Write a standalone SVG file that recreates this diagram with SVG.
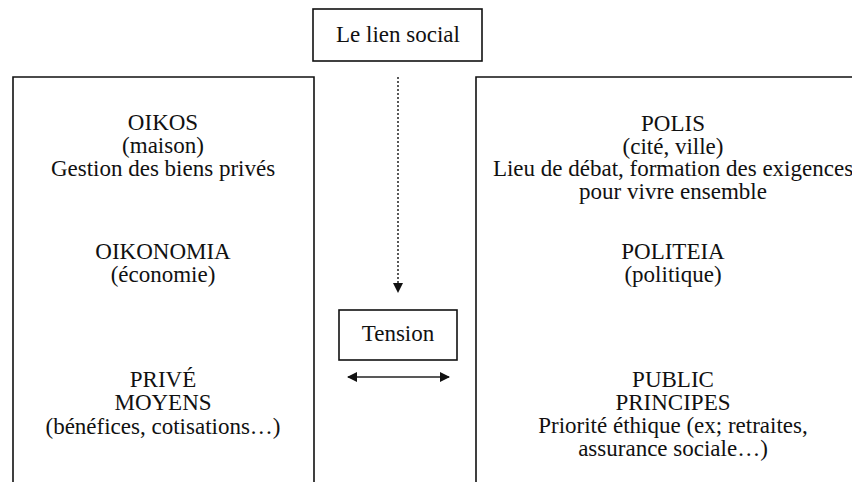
<svg xmlns="http://www.w3.org/2000/svg" width="852" height="482" viewBox="0 0 852 482">
<defs>
<style>
.t{font-family:'Liberation Serif','DejaVu Serif',serif;font-size:23px;fill:#111;text-anchor:middle}
.box{fill:none;stroke:#111;stroke-width:1.6}
.conn{fill:none;stroke:#222;stroke-width:1.5}
</style>
<marker id="ah" viewBox="0 0 10 10" refX="9" refY="5" markerWidth="10" markerHeight="10" markerUnits="userSpaceOnUse" orient="auto-start-reverse">
<path d="M0,0 L10,5 L0,10 z" fill="#111"/>
</marker>
</defs>
<rect width="852" height="482" fill="#fff"/>
<g id="lien">
<rect class="box" x="313" y="9" width="169" height="52"/>
<text class="t" x="398" y="42">Le lien social</text>
</g>
<g id="oikos">
<path class="box" d="M13,482 V77 H314 V482"/>
<text class="t" x="163" y="130">OIKOS</text>
<text class="t" x="163" y="153">(maison)</text>
<text class="t" x="163" y="176">Gestion des biens privés</text>
<text class="t" x="163" y="259">OIKONOMIA</text>
<text class="t" x="163" y="282">(économie)</text>
<text class="t" x="163" y="387">PRIVÉ</text>
<text class="t" x="163" y="410">MOYENS</text>
<text class="t" x="163" y="434">(bénéfices, cotisations…)</text>
</g>
<g id="polis">
<path class="box" d="M476,482 V77 H853"/>
<text class="t" x="673" y="131">POLIS</text>
<text class="t" x="673" y="154">(cité, ville)</text>
<text class="t" x="673" y="176">Lieu de débat, formation des exigences</text>
<text class="t" x="673" y="199">pour vivre ensemble</text>
<text class="t" x="673" y="259">POLITEIA</text>
<text class="t" x="673" y="282">(politique)</text>
<text class="t" x="673" y="387">PUBLIC</text>
<text class="t" x="673" y="410">PRINCIPES</text>
<text class="t" x="673" y="433">Priorité éthique (ex; retraites,</text>
<text class="t" x="673" y="456">assurance sociale…)</text>
</g>
<g id="tension">
<rect class="box" x="339" y="310" width="118" height="50"/>
<text class="t" x="398" y="341">Tension</text>
</g>
<g id="connectors">
<line class="conn" x1="398" y1="77" x2="398" y2="292" stroke-dasharray="2,2" marker-end="url(#ah)"/>
<line class="conn" x1="348" y1="377" x2="449" y2="377" marker-start="url(#ah)" marker-end="url(#ah)"/>
</g>
</svg>
